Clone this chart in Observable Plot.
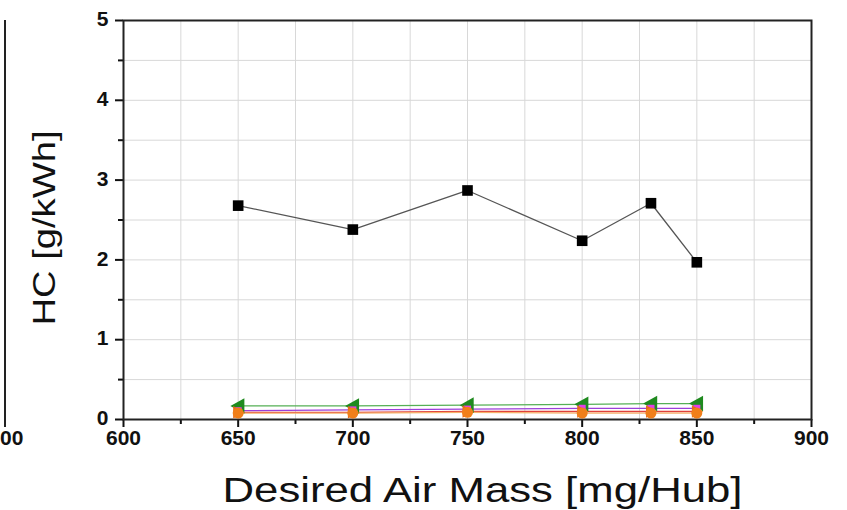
<!DOCTYPE html>
<html>
<head>
<meta charset="utf-8">
<script src="https://cdn.jsdelivr.net/npm/d3@7"></script>
<script src="https://cdn.jsdelivr.net/npm/@observablehq/plot@0.6"></script>
<style>
  html, body { margin: 0; padding: 0; background: #fff; }
  #wrap { position: relative; width: 847px; height: 510px; overflow: hidden; font-family: "Liberation Sans", Arial, sans-serif; }
  #prev-axis { position: absolute; left: 4px; top: 20px; width: 0; height: 399px; border-left: 2px solid #222; }
  #prev-tick { position: absolute; left: 4px; top: 419px; width: 2px; height: 8px; background: #222; }
  #prev-label { position: absolute; left: 0px; top: 426px; font-weight: bold; font-size: 21px; color: #111; }
  #chart { position: absolute; left: 0; top: 0; }
</style>
</head>
<body>
<div id="wrap">
  <div id="prev-axis"></div>
  <div id="prev-tick"></div>
  <div id="prev-label">00</div>
  <div id="chart"></div>
</div>
<script>
// Desired air mass set points [mg/Hub]
const airMass = [650, 700, 750, 800, 830, 850];

// HC emissions [g/kWh] per configuration
const hcBlack  = [2.68, 2.38, 2.87, 2.24, 2.71, 1.97];
const hcGreen  = [0.17, 0.17, 0.18, 0.19, 0.20, 0.20];
const hcViolet = [0.11, 0.12, 0.13, 0.14, 0.14, 0.14];
const hcRed    = [0.09, 0.09, 0.10, 0.10, 0.10, 0.10];
const hcOrange = [0.08, 0.08, 0.09, 0.08, 0.08, 0.08];

const xTicks = [600, 650, 700, 750, 800, 850, 900];
const yTicks = [0, 1, 2, 3, 4, 5];

const xLabel = "Desired Air Mass [mg/Hub]";
const yLabel = "HC [g/kWh]";

// drawn back to front
const series = [
  {values: hcBlack,  line: "#555555", fill: "#000000", symbol: "square", r: 6},
  {values: hcGreen,  line: "#55b055", fill: "#1f8a1f", symbol: "left", r: 5},
  {values: hcViolet, line: "#9b3fd9", fill: "#e23ee6", symbol: "square", r: 4},
  {values: hcRed,    line: "#e0403a", fill: "#e86a1a", symbol: "right", r: 4},
  {values: hcOrange, line: "#f5b26b", fill: "#f07f1a", symbol: "circle", r: 5.5}
];

const rows = series.flatMap((s, i) => airMass.map((x, j) => ({x, y: s.values[j], k: i})));

const leftTriangle = {
  draw(context, size) {
    const r = Math.sqrt(size / 1.3);
    context.moveTo(-r, 0);
    context.lineTo(r * 0.8, -r);
    context.lineTo(r * 0.8, r);
    context.closePath();
  }
};
const rightTriangle = {
  draw(context, size) {
    const r = Math.sqrt(size / 1.3);
    context.moveTo(r, 0);
    context.lineTo(-r * 0.8, -r);
    context.lineTo(-r * 0.8, r);
    context.closePath();
  }
};
const symbolOf = {left: leftTriangle, right: rightTriangle, circle: "circle", square: "square"};

const marks = [
  Plot.gridX(d3.range(600, 901, 25), {stroke: "#d8d8d8", strokeOpacity: 1, strokeWidth: 1}),
  Plot.gridY(d3.range(0, 5.01, 0.5), {stroke: "#d8d8d8", strokeOpacity: 1, strokeWidth: 1}),
  // minor ticks
  Plot.axisX(d3.range(625, 900, 50), {tickSize: 5, text: null, label: null, stroke: "#111", strokeWidth: 2}),
  Plot.axisY(d3.range(0.5, 5, 1), {tickSize: 5, text: null, label: null, stroke: "#111", strokeWidth: 2}),
  // major ticks
  Plot.axisX(xTicks, {tickSize: 8, text: null, label: null, stroke: "#111", strokeWidth: 2}),
  Plot.axisY(yTicks, {tickSize: 8, text: null, label: null, stroke: "#111", strokeWidth: 2}),
  // tick numbers
  Plot.text(xTicks, {x: d => d, text: d => String(d), frameAnchor: "bottom", dy: 11, lineAnchor: "top", fontSize: 21, fontWeight: "bold", fill: "#111"}),
  Plot.text(yTicks, {y: d => d, text: d => String(d), frameAnchor: "left", dx: -15, dy: -1, textAnchor: "end", lineAnchor: "middle", fontSize: 21, fontWeight: "bold", fill: "#111"}),
  Plot.frame({stroke: "#222", strokeWidth: 2})
];

series.forEach((s, i) => {
  const data = rows.filter(d => d.k === i);
  marks.push(Plot.line(data, {x: "x", y: "y", stroke: s.line, strokeWidth: 1.3}));
});
series.forEach((s, i) => {
  const data = rows.filter(d => d.k === i);
  marks.push(Plot.dot(data, {x: "x", y: "y", symbol: symbolOf[s.symbol], r: s.r, fill: s.fill, stroke: "none"}));
});

marks.push(
  Plot.text([xLabel], {frameAnchor: "bottom", dx: 15, dy: 71, lineAnchor: "middle", fontSize: 35, fill: "#111", className: "xlab"}),
  Plot.text([yLabel], {frameAnchor: "left", dx: -78, dy: 8, rotate: -90, textAnchor: "middle", lineAnchor: "middle", fontSize: 31, fill: "#111", className: "ylab"})
);

const chart = Plot.plot({
  width: 847,
  height: 510,
  marginLeft: 123,
  marginRight: 36,
  marginTop: 20,
  marginBottom: 91,
  style: {fontFamily: "Liberation Sans, Arial, sans-serif", background: "transparent", overflow: "visible"},
  x: {domain: [600, 900]},
  y: {domain: [0, 5]},
  marks
});

// the axis titles are set in a wide face; stretch them to their printed width
chart.querySelectorAll(".xlab text").forEach(t => { t.setAttribute("textLength", 520); t.setAttribute("lengthAdjust", "spacingAndGlyphs"); });
chart.querySelectorAll(".ylab text").forEach(t => { t.setAttribute("textLength", 195); t.setAttribute("lengthAdjust", "spacingAndGlyphs"); });

document.getElementById("chart").appendChild(chart);
</script>
</body>
</html>
